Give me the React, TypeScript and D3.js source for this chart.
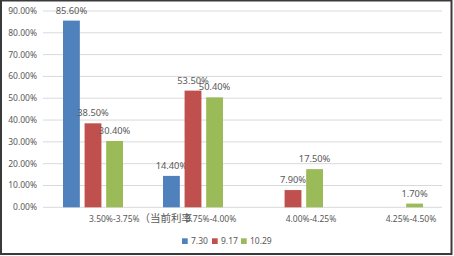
import React from "react";
import * as d3 from "d3";

const categories = ["3.50%-3.75%（当前利率", "3.75%-4.00%", "4.00%-4.25%", "4.25%-4.50%"];
const seriesNames = ["7.30", "9.17", "10.29"];
const values730 = [85.6, 14.4, 0, 0];
const values917 = [38.5, 53.5, 7.9, 0];
const values1029 = [30.4, 50.4, 17.5, 1.7];
const yTicks = [0, 10, 20, 30, 40, 50, 60, 70, 80, 90];
const colors = ["#4F81BD", "#C0504D", "#9BBB59"];

const W = 454;
const H = 256;
const FONT = "'Noto Sans', 'Noto Sans CJK SC', sans-serif";
const TEXT = "#595959";

export default function App() {
  const series = [values730, values917, values1029];
  const x0 = d3.scaleBand<string>().domain(categories).range([43, 443]).paddingInner(0).paddingOuter(0);
  const x1 = d3
    .scaleBand<string>()
    .domain(seriesNames)
    .range([20, 80])
    .paddingInner(0.22)
    .paddingOuter(0);
  const y = d3.scaleLinear().domain([0, 90]).range([207.3, 11]);

  const fmt = (v: number) => v.toFixed(2) + "%";

  // split label into latin and CJK runs so CJK glyphs render at a larger size
  const renderLabel = (s: string) => {
    const parts = s.match(/[\u3000-\u9fff\uff00-\uffef]+|[^\u3000-\u9fff\uff00-\uffef]+/g) || [];
    return parts.map((p, i) =>
      /[\u3000-\u9fff\uff00-\uffef]/.test(p) ? (
        <tspan key={i} fontSize={10.5}>{p}</tspan>
      ) : (
        <tspan key={i}>{p}</tspan>
      )
    );
  };

  return (
    <svg
      width={W}
      height={H}
      style={{ position: "absolute", left: 0, top: 0, display: "block", background: "#fff" }}
      fontFamily={FONT}
    >
      <rect x={1} y={0.5} width={W - 3.5} height={H - 2.5} fill="#fff" stroke="#3a3a3a" strokeWidth={2} />

      {/* gridlines and y tick labels */}
      {yTicks.map((t) => (
        <g key={t}>
          <line x1={43} x2={442} y1={y(t)} y2={y(t)} stroke="#D9D9D9" strokeWidth={1} />
          <text x={37} y={y(t)} dy="0.35em" textAnchor="end" fontSize={8.5} fill={TEXT}>
            {fmt(t)}
          </text>
        </g>
      ))}

      {/* bars and value labels */}
      {categories.map((c, ci) => (
        <g key={c} transform={`translate(${x0(c)},0)`}>
          {seriesNames.map((s, si) => {
            const v = series[si][ci];
            if (!v) return null;
            const bx = x1(s)!;
            const bw = x1.bandwidth();
            return (
              <g key={s}>
                <rect x={bx} y={y(v)} width={bw} height={y(0) - y(v)} fill={colors[si]} />
                <text
                  x={bx + bw / 2}
                  y={y(v) - 7}
                  textAnchor="middle"
                  fontSize={9.3}
                  fill={TEXT}
                >
                  {fmt(v)}
                </text>
              </g>
            );
          })}
        </g>
      ))}

      {/* category labels */}
      {categories.map((c, ci) => {
        const center = x0(c)! + x0.bandwidth() / 2;
        return ci === 0 ? (
          <text key={c} x={center - 4} y={222} textAnchor="start" fontSize={8.5} fill={TEXT}>
            {renderLabel(c)}
          </text>
        ) : (
          <text key={c} x={center + 18} y={222} textAnchor="middle" fontSize={8.5} fill={TEXT}>
            {renderLabel(c)}
          </text>
        );
      })}

      {/* legend */}
      {seriesNames.map((s, si) => {
        const lx = [182, 212, 241][si];
        return (
          <g key={s}>
            <rect x={lx} y={238.3} width={5.7} height={5.7} fill={colors[si]} />
            <text x={lx + 9} y={241.2} dy="0.35em" fontSize={8.5} fill={TEXT}>
              {s}
            </text>
          </g>
        );
      })}
    </svg>
  );
}
